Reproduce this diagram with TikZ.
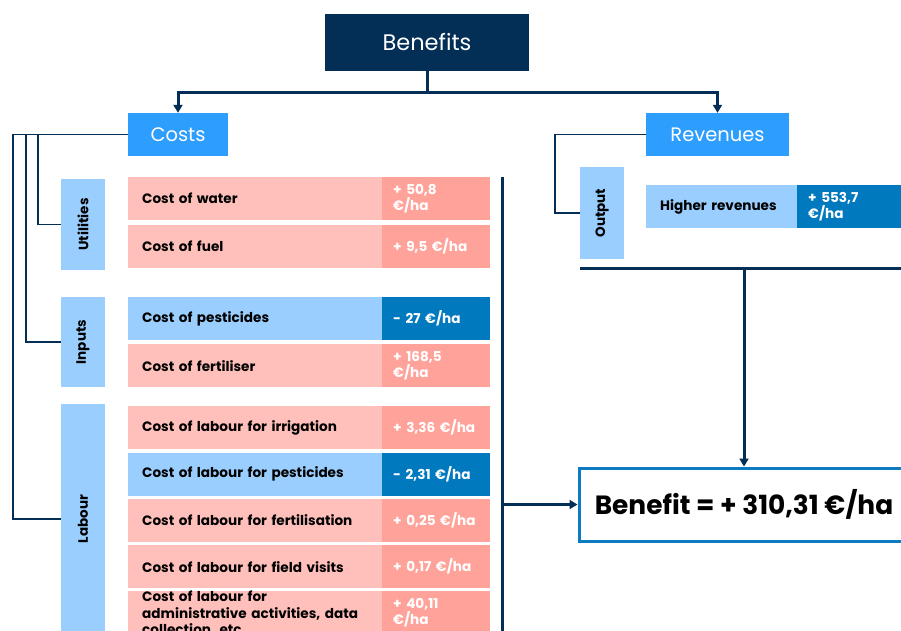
\documentclass[tikz,border=0pt]{standalone}
\usepackage{fontspec}
\setmainfont{Poppins}
\usetikzlibrary{arrows.meta}
\definecolor{navy}{HTML}{032E55}
\definecolor{brightblue}{HTML}{2D9DFE}
\definecolor{lightblue}{HTML}{99CEFE}
\definecolor{darkblue}{HTML}{0179BF}
\definecolor{pinkL}{HTML}{FFBFBA}
\definecolor{pinkD}{HTML}{FFA39A}
\definecolor{boxblue}{HTML}{0D7BC1}
\tikzset{
  cellbase/.style={anchor=north west, inner ysep=0pt, inner xsep=14pt, align=left,
    minimum height=43pt, font=\fontsize{13.6}{16.5}\selectfont\bfseries},
  labpk/.style={cellbase, fill=pinkL, minimum width=254pt, text width=226pt},
  labbl/.style={cellbase, fill=lightblue, minimum width=254pt, text width=226pt},
  valbase/.style={cellbase, minimum width=108pt, text width=86pt, inner xsep=11pt, text=white},
  valpk/.style={valbase, fill=pinkD},
  valbl/.style={valbase, fill=darkblue},
  catbox/.style={fill=lightblue, minimum width=44pt, inner sep=0pt, font=\fontsize{13.5}{15}\selectfont\bfseries},
  headbox/.style={fill=brightblue, text=white, minimum height=43pt, inner sep=0pt, font=\fontsize{19.5}{21}\selectfont},
  thick3/.style={navy, line width=3pt},
  thin2/.style={navy, line width=1.8pt},
  arr/.style={-{Triangle[length=8pt,width=9pt]}},
}
\newcommand\mkrow[5]{%
  \node[lab#5] (#1) at (128,-#2) {#3};
  \node[val#5] (#1v) at (382,-#2) {#4};
}
\begin{document}
\begin{tikzpicture}[x=1pt,y=1pt]
\useasboundingbox (0,0) rectangle (901,-630);
\clip (0,0) rectangle (901,-630);
\fill[white] (0,0) rectangle (901,-630);

% top boxes
\node[fill=navy, text=white, minimum width=204pt, minimum height=57pt, inner sep=0pt,
  font=\fontsize{22.5}{24}\selectfont] (benefits) at (427,-42.5) {Benefits};
\node[headbox, minimum width=100pt] (costs) at (178,-134.5) {Costs};
\node[headbox, minimum width=143pt] (revenues) at (717.5,-134.5) {Revenues};

\coordinate (split) at (427,-92);
\draw[thick3] (benefits.south) -- (split);
\draw[thick3, arr] (split) -| (costs.north);
\draw[thick3, arr] (split) -| (revenues.north);

% category boxes
\node[catbox, minimum height=91pt] (util) at (83,-224.5) {\rotatebox{90}{Utilities}};
\node[catbox, minimum height=90pt] (inputs) at (83,-342) {\rotatebox{90}{Inputs}};
\node[catbox, minimum height=230pt] (labour) at (83,-519) {\rotatebox{90}{Labour}};
\node[catbox, minimum height=92pt] (output) at (602,-213) {\rotatebox{90}{Output}};

\draw[thin2] (costs.west) -- ++(-90,0) |- (util.west);
\draw[thin2] (costs.west) -- ++(-102,0) |- (inputs.west);
\draw[thin2] (costs.west) -- ++(-115,0) |- (labour.west);
\draw[thin2] (revenues.west) -- ++(-91,0) |- (output.west);

% rows
\mkrow{water}{177}{Cost of water}{+ 50,8\\€/ha}{pk}
\mkrow{fuel}{225}{Cost of fuel}{+ 9,5 €/ha}{pk}
\mkrow{pest}{297}{Cost of pesticides}{- 27 €/ha}{bl}
\mkrow{fert}{344}{Cost of fertiliser}{+ 168,5\\€/ha}{pk}
\mkrow{irr}{406}{Cost of labour for irrigation}{+ 3,36 €/ha}{pk}
\mkrow{lpest}{452.5}{Cost of labour for pesticides}{- 2,31 €/ha}{bl}
\mkrow{lfert}{498.5}{Cost of labour for fertilisation}{+ 0,25 €/ha}{pk}
\mkrow{visit}{545}{Cost of labour for field visits}{+ 0,17 €/ha}{pk}
\mkrow{admin}{591}{Cost of labour for\\administrative activities, data\\collection, etc.}{+ 40,11\\€/ha}{pk}

% revenues row
\node[labbl, minimum width=151pt, text width=123pt] (higher) at (646,-185) {Higher revenues};
\node[valbl] (higherv) at (797,-185) {+ 553,7\\€/ha};

% result box
\node[draw=boxblue, line width=3pt, fill=white, minimum width=330pt, minimum height=73pt,
  inner sep=0pt, font=\fontsize{26.4}{28}\selectfont\bfseries] (benefit) at (744,-504.5)
  {Benefit = + 310,31 €/ha};

% collector lines
\coordinate (vtop) at (502,-177);
\coordinate (vbot) at (502,-640);
\draw[thick3] (vtop) -- (vbot);
\draw[thick3, arr] (benefit.west -| vtop) -- (benefit.west);

\coordinate (hl) at (580,-268);
\coordinate (hr) at (910,-268);
\draw[thick3] (hl) -- (hr);
\draw[thick3, arr] (benefit.north |- hl) -- (benefit.north);
\end{tikzpicture}
\end{document}
